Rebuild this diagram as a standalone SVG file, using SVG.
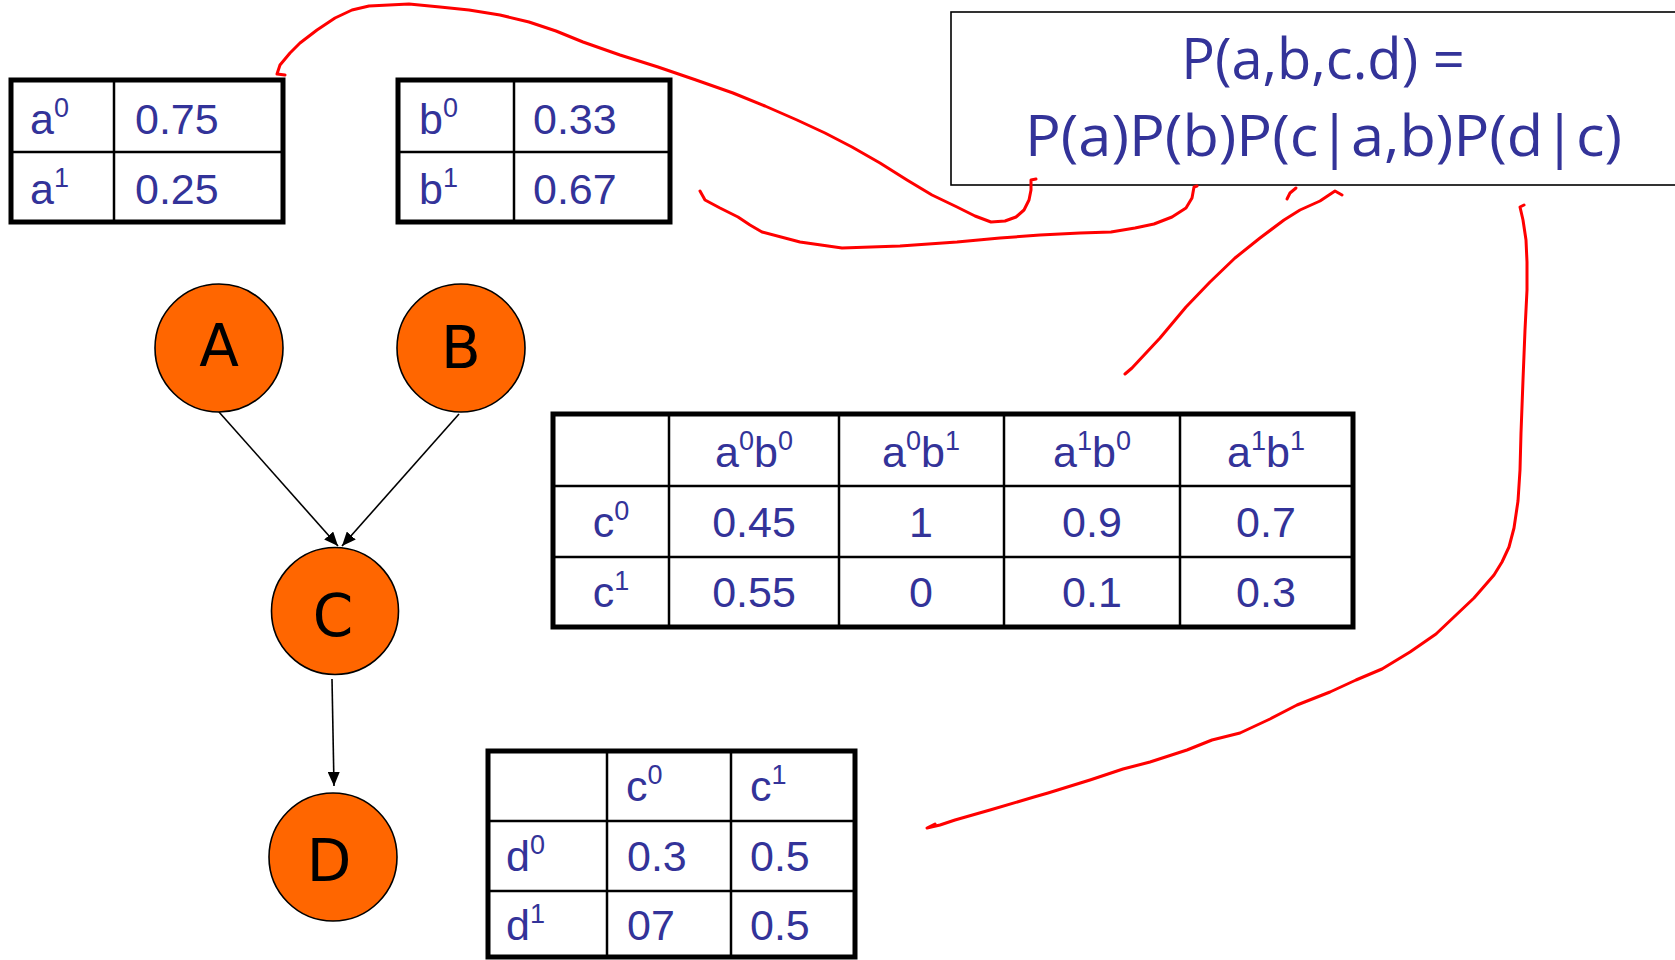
<svg xmlns="http://www.w3.org/2000/svg" width="1675" height="960" viewBox="0 0 1675 960">
<style>
.tb{fill:none;stroke:#000;stroke-width:5}
.ln{stroke:#000;stroke-width:2.5}
.t{font-family:"Liberation Sans",Arial,sans-serif;font-size:43px;fill:#333399}
.c{text-anchor:middle}
.node{fill:#FF6600;stroke:#000;stroke-width:1.6}
.nl{font-family:"DejaVu Sans",sans-serif;font-size:58px;fill:#000;text-anchor:middle}
.f{font-family:"Open Sans","Noto Sans",sans-serif;font-size:56px;fill:#333399}
.red{fill:none;stroke:#FF0000;stroke-width:3;stroke-linecap:round;stroke-linejoin:round}
.edge{fill:none;stroke:#000;stroke-width:1.6}
</style>
<defs>
<marker id="ah" markerWidth="14" markerHeight="12" refX="14" refY="6" orient="auto" markerUnits="userSpaceOnUse">
<path d="M0,0 L14,6 L0,12 Z" fill="#000"/>
</marker>
</defs>
<rect width="1675" height="960" fill="#fff"/>

<g id="tableA">
<rect class="tb" x="11" y="80" width="272" height="142"/>
<line class="ln" x1="114" y1="80" x2="114" y2="222"/>
<line class="ln" x1="11" y1="152" x2="283" y2="152"/>
<text class="t" x="30" y="134">a<tspan font-size="27" dy="-17">0</tspan></text>
<text class="t" x="135" y="134">0.75</text>
<text class="t" x="30" y="204">a<tspan font-size="27" dy="-17">1</tspan></text>
<text class="t" x="135" y="204">0.25</text>
</g>

<g id="tableB">
<rect class="tb" x="398" y="80" width="272" height="142"/>
<line class="ln" x1="514" y1="80" x2="514" y2="222"/>
<line class="ln" x1="398" y1="152" x2="670" y2="152"/>
<text class="t" x="419" y="134">b<tspan font-size="27" dy="-17">0</tspan></text>
<text class="t" x="533" y="134">0.33</text>
<text class="t" x="419" y="204">b<tspan font-size="27" dy="-17">1</tspan></text>
<text class="t" x="533" y="204">0.67</text>
</g>

<g id="formula">
<rect x="951" y="12" width="740" height="173" fill="#fff" stroke="#000" stroke-width="1.6"/>
<text class="f" x="1323" y="79" text-anchor="middle">P(a,b,c.d) =</text>
<text class="f" x="1025" y="156" textLength="597" lengthAdjust="spacingAndGlyphs">P(a)P(b)P(c|a,b)P(d|c)</text>
</g>

<g id="connectors">
<line class="edge" x1="219" y1="412" x2="338" y2="546" marker-end="url(#ah)"/>
<line class="edge" x1="459" y1="414" x2="342" y2="546" marker-end="url(#ah)"/>
<line class="edge" x1="332" y1="679" x2="334" y2="786" marker-end="url(#ah)"/>
</g>

<g id="nodeA">
<circle class="node" cx="219" cy="348" r="64"/>
<text class="nl" x="219" y="366">A</text>
</g>
<g id="nodeB">
<circle class="node" cx="461" cy="348" r="64"/>
<text class="nl" x="461" y="368">B</text>
</g>
<g id="nodeC">
<circle class="node" cx="335" cy="611" r="63.5"/>
<text class="nl" x="333" y="636">C</text>
</g>
<g id="nodeD">
<circle class="node" cx="333" cy="857" r="64"/>
<text class="nl" x="329" y="881">D</text>
</g>

<g id="tableC">
<rect class="tb" x="553" y="414" width="800" height="213"/>
<line class="ln" x1="669" y1="414" x2="669" y2="627"/>
<line class="ln" x1="839" y1="414" x2="839" y2="627"/>
<line class="ln" x1="1004" y1="414" x2="1004" y2="627"/>
<line class="ln" x1="1180" y1="414" x2="1180" y2="627"/>
<line class="ln" x1="553" y1="486" x2="1353" y2="486"/>
<line class="ln" x1="553" y1="557" x2="1353" y2="557"/>
<text class="t c" x="754" y="467">a<tspan font-size="27" dy="-17">0</tspan><tspan dy="17">b</tspan><tspan font-size="27" dy="-17">0</tspan></text>
<text class="t c" x="921" y="467">a<tspan font-size="27" dy="-17">0</tspan><tspan dy="17">b</tspan><tspan font-size="27" dy="-17">1</tspan></text>
<text class="t c" x="1092" y="467">a<tspan font-size="27" dy="-17">1</tspan><tspan dy="17">b</tspan><tspan font-size="27" dy="-17">0</tspan></text>
<text class="t c" x="1266" y="467">a<tspan font-size="27" dy="-17">1</tspan><tspan dy="17">b</tspan><tspan font-size="27" dy="-17">1</tspan></text>
<text class="t c" x="611" y="537">c<tspan font-size="27" dy="-17">0</tspan></text>
<text class="t c" x="754" y="537">0.45</text>
<text class="t c" x="921" y="537">1</text>
<text class="t c" x="1092" y="537">0.9</text>
<text class="t c" x="1266" y="537">0.7</text>
<text class="t c" x="611" y="607">c<tspan font-size="27" dy="-17">1</tspan></text>
<text class="t c" x="754" y="607">0.55</text>
<text class="t c" x="921" y="607">0</text>
<text class="t c" x="1092" y="607">0.1</text>
<text class="t c" x="1266" y="607">0.3</text>
</g>

<g id="tableD">
<rect class="tb" x="488" y="751" width="367" height="206"/>
<line class="ln" x1="607" y1="751" x2="607" y2="957"/>
<line class="ln" x1="731" y1="751" x2="731" y2="957"/>
<line class="ln" x1="488" y1="821" x2="855" y2="821"/>
<line class="ln" x1="488" y1="891" x2="855" y2="891"/>
<text class="t" x="626" y="801">c<tspan font-size="27" dy="-17">0</tspan></text>
<text class="t" x="750" y="801">c<tspan font-size="27" dy="-17">1</tspan></text>
<text class="t" x="506" y="871">d<tspan font-size="27" dy="-17">0</tspan></text>
<text class="t" x="627" y="871">0.3</text>
<text class="t" x="750" y="871">0.5</text>
<text class="t" x="506" y="940">d<tspan font-size="27" dy="-17">1</tspan></text>
<text class="t" x="627" y="940">07</text>
<text class="t" x="750" y="940">0.5</text>
</g>

<g id="annotations">
<polyline class="red" points="285,75 277,74 280,65 290,53 300,43 317,30 335,18 352,10 369,6 409,4 440,7 469,10 500,15 529,22 556,31 583,42 620,55 658,67 696,80 733,93 765,106 797,120 825,133 852,147 880,163 907,180 932,195 957,207 975,216 991,222 1005,221 1016,217 1024,210 1029,200 1031,190 1031,180 1036,179"/>
<polyline class="red" points="700,191 705,200 720,208 738,217 750,225 762,232 800,242 842,248 900,246 957,242 1000,238 1040,235 1080,233 1111,232 1135,228 1154,224 1172,217 1186,208 1192,198 1194,187 1197,186"/>
<polyline class="red" points="1125,374 1132,368 1160,338 1186,307 1210,282 1235,258 1260,238 1284,220 1300,210 1320,201 1335,191 1342,195"/>
<polyline class="red" points="1287,199 1290,193 1296,188"/>
<polyline class="red" points="1524,205 1520,207 1523,220 1526,240 1527,262 1527,290 1525,330 1523,380 1521,433 1520,470 1518,501 1514,528 1509,547 1502,562 1494,575 1474,598 1455,616 1436,634 1410,652 1382,669 1356,680 1330,692 1297,705 1270,719 1240,733 1212,740 1187,750 1150,762 1123,769 1090,780 1048,793 1034,797 990,810 955,820 940,825 927,828 935,824"/>
</g>
</svg>
